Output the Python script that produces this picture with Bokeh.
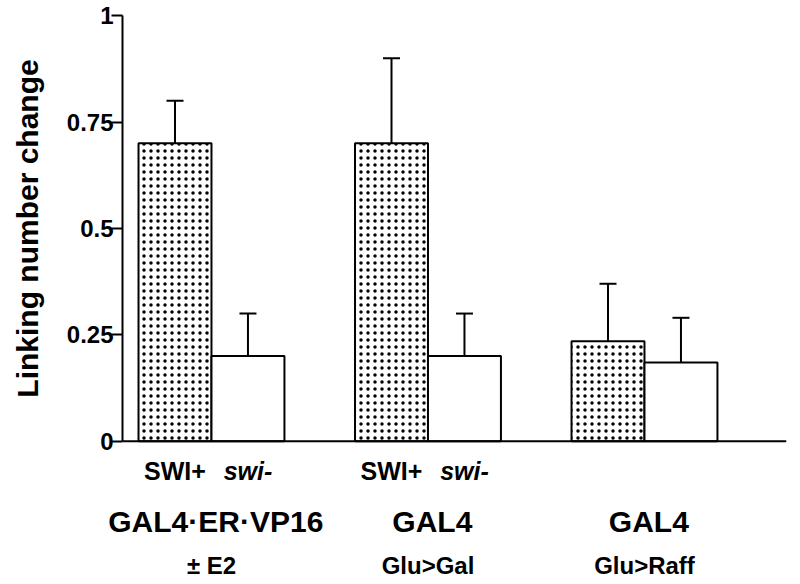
from bokeh.plotting import figure
from bokeh.layouts import column
from bokeh.models import (ColumnDataSource, Whisker, TeeHead, FixedTicker, Span, Range1d)
from bokeh.core.properties import value
from bokeh.embed import file_html
from bokeh.resources import INLINE

# ---- data ----
groups = ["GAL4·ER·VP16", "GAL4", "GAL4"]
conditions = ["± E2", "Glu>Gal", "Glu>Raff"]
strain_plus_labels = ["SWI+", "SWI+", ""]
strain_minus_labels = ["swi-", "swi-", ""]
swi_plus = [0.70, 0.70, 0.235]
swi_plus_err = [0.10, 0.20, 0.135]
swi_minus = [0.20, 0.20, 0.185]
swi_minus_err = [0.10, 0.10, 0.105]
y_ticks = [0, 0.25, 0.5, 0.75, 1]
y_tick_labels = ["0", "0.25", "0.5", "0.75", "1"]

FONT = "Liberation Sans"
W = 0.337  # bar width in group units
g = list(range(len(groups)))
x_plus = [c - W / 2 for c in g]
x_minus = [c + W / 2 for c in g]

# layout constants (pixels)
TOTAL_W, TOTAL_H = 800, 584
LEFT, RIGHT = 122, 14
TOP_H = 456
y0 = 440.7       # pixel row of zero
s = 425.5        # px per y-unit
xs_per = 216.5   # px per group unit
x_start = -0.411
x_end = x_start + (TOTAL_W - LEFT - RIGHT) / xs_per

p = figure(width=TOTAL_W, height=TOP_H, output_backend="svg", toolbar_location=None,
           x_range=Range1d(x_start, x_end),
           y_range=Range1d(-(TOP_H - y0) / s, y0 / s),
           min_border_left=LEFT, min_border_right=RIGHT, min_border_top=0, min_border_bottom=0,
           x_axis_location=None)
p.frame_align = False
p.outline_line_color = None
p.grid.visible = False
p.background_fill_color = "white"

# bars
p.vbar(x=x_plus, top=swi_plus, bottom=0, width=W, fill_color="white",
       line_color="black", line_width=2, hatch_pattern="dot", hatch_color="black",
       hatch_scale=7, hatch_weight=1.5)
p.vbar(x=x_minus, top=swi_minus, bottom=0, width=W, fill_color="white",
       line_color="black", line_width=2)

# error bars (upper only)
for xs, v, e in ((x_plus, swi_plus, swi_plus_err), (x_minus, swi_minus, swi_minus_err)):
    src = ColumnDataSource(dict(base=xs, lower=v, upper=[a + b for a, b in zip(v, e)]))
    wk = Whisker(source=src, base="base", lower="lower", upper="upper", dimension="height",
                 line_color="black", line_width=2,
                 upper_head=TeeHead(size=17, line_color="black", line_width=2),
                 lower_head=None)
    p.add_layout(wk)

# baseline
p.add_layout(Span(location=0, dimension="width", line_color="black", line_width=2))

# y axis
ax = p.yaxis[0]
ax.bounds = (0, 1)
ax.ticker = FixedTicker(ticks=y_ticks)
ax.major_label_overrides = {t: l for t, l in zip(y_ticks, y_tick_labels)}
ax.minor_tick_line_color = None
ax.major_tick_in = 0
ax.major_tick_out = 11
ax.major_tick_line_width = 2
ax.axis_line_width = 2
ax.major_label_standoff = -2
ax.major_label_text_font = FONT
ax.major_label_text_font_style = "bold"
ax.major_label_text_font_size = "24px"
ax.major_label_text_color = "black"
ax.axis_label = "Linking number change"
ax.axis_label_text_font = FONT
ax.axis_label_text_font_style = "bold"
ax.axis_label_text_font_size = "30px"
ax.axis_label_text_color = "black"
ax.axis_label_standoff = 20

# ---- label strip below the bars (shares the horizontal scale) ----
BOT_H = TOTAL_H - TOP_H
q = figure(width=TOTAL_W, height=BOT_H, output_backend="svg", toolbar_location=None,
           x_range=Range1d(x_start - LEFT / xs_per, x_end + RIGHT / xs_per),
           y_range=Range1d(BOT_H, 0),
           min_border=0, x_axis_location=None, y_axis_location=None)
q.frame_align = False
q.outline_line_color = None
q.grid.visible = False

def row(xs, texts, y, size, style, dx=0.0):
    q.text(x=[v + dx for v in xs], y=[y] * len(xs), text=texts, text_align="center",
           text_baseline="middle", text_font=value(FONT), text_font_style=style,
           text_font_size=size, text_color="black")

row(x_plus, strain_plus_labels, 470 - TOP_H, "25px", "bold")
row(x_minus, strain_minus_labels, 470 - TOP_H, "25px", "bold italic")
row(g, groups, 521 - TOP_H, "30px", "bold", dx=0.02)
row(g, conditions, 565 - TOP_H, "24px", "bold")

open("out.html", "w").write(file_html(column(p, q, spacing=0), INLINE))
